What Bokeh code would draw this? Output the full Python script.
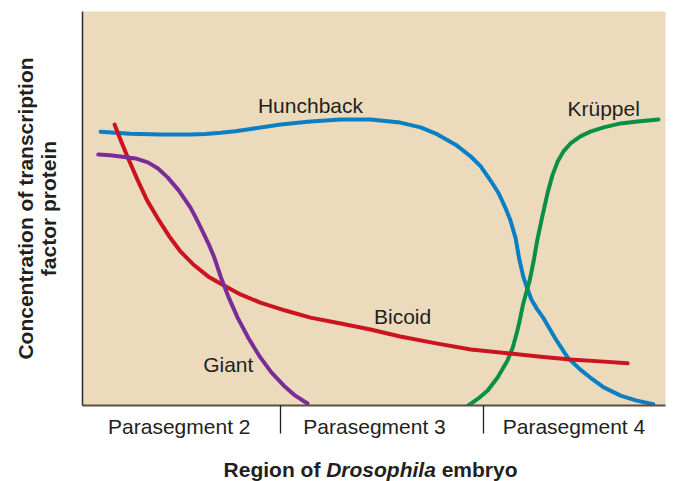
from bokeh.plotting import figure
from bokeh.layouts import column
from bokeh.models import Range1d, FixedTicker, Label, ColumnDataSource
from bokeh.embed import file_html
from bokeh.resources import INLINE
from bokeh.core.properties import value

# ---- data (x: position along embryo 0-100, y: relative concentration 0-100) ----
hunchback_x = [3.1, 8.2, 13.4, 18.5, 21.1, 23.7, 26.2, 28.8, 34.0, 39.1, 44.3, 49.4, 54.5,
               58.0, 60.9, 64.0, 66.6, 68.3, 70.0, 71.4, 72.5, 73.4, 74.3, 74.9, 75.6,
               76.3, 77.0, 78.0, 79.1, 81.1, 83.2, 85.4, 87.1, 89.4, 92.3, 94.9, 97.9]
hunchback_y = [69.5, 69.0, 68.8, 68.8, 68.9, 69.2, 69.6, 70.2, 71.3, 72.1, 72.6, 72.6, 71.8,
               70.6, 68.8, 66.2, 63.2, 60.7, 57.1, 53.8, 50.3, 47.0, 42.4, 37.3, 32.7,
               29.7, 26.9, 24.4, 22.1, 17.0, 12.2, 9.1, 7.1, 4.6, 2.5, 1.3, 0.3]

kruppel_x = [66.2, 67.9, 69.5, 71.2, 72.9, 73.8, 74.6, 75.1, 75.6, 76.7, 77.4, 78.0,
             78.9, 79.8, 80.6, 81.5, 82.5, 83.7, 85.4, 87.1, 89.4, 92.3, 95.2, 98.8]
kruppel_y = [0.0, 1.8, 3.8, 7.1, 11.4, 14.7, 19.0, 22.3, 25.9, 31.7, 36.8, 41.9,
             48.2, 54.1, 58.4, 61.9, 64.5, 66.5, 68.3, 69.5, 70.6, 71.6, 72.1, 72.6]

bicoid_x = [5.5, 6.5, 7.7, 9.4, 11.1, 12.9, 14.8, 16.8, 19.0, 21.6, 24.2, 27.1, 30.5,
            34.8, 39.1, 44.3, 49.4, 54.5, 60.9, 66.6, 73.4, 78.6, 83.7, 88.8, 93.5]
bicoid_y = [71.3, 67.5, 63.2, 57.4, 52.0, 47.5, 43.1, 39.1, 35.8, 32.7, 30.5, 28.2, 26.1,
            24.1, 22.3, 20.8, 19.3, 17.5, 15.7, 14.2, 13.2, 12.4, 11.7, 11.2, 10.7]

giant_x = [2.7, 4.8, 6.5, 9.1, 11.2, 12.9, 14.6, 16.5, 18.5, 19.5, 20.6, 21.6, 22.6,
           23.7, 25.0, 26.6, 28.5, 30.5, 32.4, 34.5, 36.5, 38.6]
giant_y = [63.7, 63.5, 63.2, 62.7, 61.7, 60.2, 57.9, 54.6, 50.3, 47.5, 44.2, 41.1, 37.6,
           32.7, 27.7, 22.3, 17.0, 12.2, 8.4, 5.1, 2.5, 0.5]

segment_labels = ["Parasegment 2", "Parasegment 3", "Parasegment 4"]
segment_centers = [16.6, 50.1, 84.3]
segment_bounds = [34.0, 68.8]

curve_names = ["Hunchback", "Krüppel", "Bicoid", "Giant"]
curve_colors = ["#0b7fc4", "#0a9046", "#cc1420", "#7a2d97"]

# ---- styling / layout ----
FONT = "Liberation Sans"
TXT = "#231f20"
label_x = [39.1, 89.4, 54.9, 25.0]
label_y = [76.2, 75.4, 22.5, 10.3]

p = figure(width=674, height=445, output_backend="svg", toolbar_location=None,
           x_range=Range1d(0, 100), y_range=Range1d(0, 100),
           min_border_left=82, min_border_right=9, min_border_top=11, min_border_bottom=40)
p.background_fill_color = "#ecdabc"
p.border_fill_color = "white"
p.outline_line_color = None
p.grid.visible = False

series = [(hunchback_x, hunchback_y), (kruppel_x, kruppel_y),
          (bicoid_x, bicoid_y), (giant_x, giant_y)]
for (xs, ys), c in zip(series, curve_colors):
    p.line(xs, ys, line_color=c, line_width=4, line_cap="round", line_join="round")

src = ColumnDataSource(dict(x=label_x, y=label_y, t=curve_names))
p.text(x="x", y="y", text="t", source=src, text_font=value(FONT),
       text_font_size=value("21px"), text_color=TXT, text_align="center",
       text_baseline="alphabetic")

xa = p.xaxis[0]
xa.ticker = FixedTicker(ticks=segment_centers, minor_ticks=segment_bounds)
xa.major_label_overrides = {c: l for c, l in zip(segment_centers, segment_labels)}
xa.major_tick_out = 0
xa.major_tick_in = 0
xa.minor_tick_in = 0
xa.minor_tick_out = 28
xa.minor_tick_line_color = TXT
xa.minor_tick_line_width = 1.3
xa.major_label_standoff = -19
xa.major_label_text_font = FONT
xa.major_label_text_font_size = "21px"
xa.major_label_text_color = TXT
xa.axis_line_color = "#5a4e44"
xa.axis_line_width = 2

ya = p.yaxis[0]
ya.ticker = FixedTicker(ticks=[])
ya.major_tick_out = 0
ya.major_tick_in = 0
ya.minor_tick_out = 0
ya.minor_tick_in = 0
ya.axis_line_color = "#2b2b2b"
ya.axis_line_width = 1.5
ya.axis_label = "Concentration of transcription\nfactor protein"
ya.axis_label_text_font = FONT
ya.axis_label_text_font_style = "bold"
ya.axis_label_text_font_size = "21px"
ya.axis_label_text_color = TXT
ya.axis_label_text_line_height = 1.0
ya.axis_label_standoff = 23

# x-axis title row (mixed bold / bold-italic)
t = figure(width=674, height=36, output_backend="svg", toolbar_location=None,
           x_range=p.x_range, y_range=Range1d(0, 36),
           min_border_left=82, min_border_right=9, min_border_top=0, min_border_bottom=0)
t.axis.visible = False
t.grid.visible = False
t.outline_line_color = None
t.background_fill_color = "white"
t.border_fill_color = "white"
for x, txt, st in [(24.2, "Region of", "bold"), (41.8, "Drosophila", "bold italic"),
                   (61.6, "embryo", "bold")]:
    t.add_layout(Label(x=x, y=12, text=txt, text_font=FONT, text_font_style=st,
                       text_font_size="21px", text_color=TXT, text_align="left",
                       text_baseline="alphabetic"))

layout = column(p, t, spacing=0)
open("out.html", "w").write(file_html(layout, INLINE))
